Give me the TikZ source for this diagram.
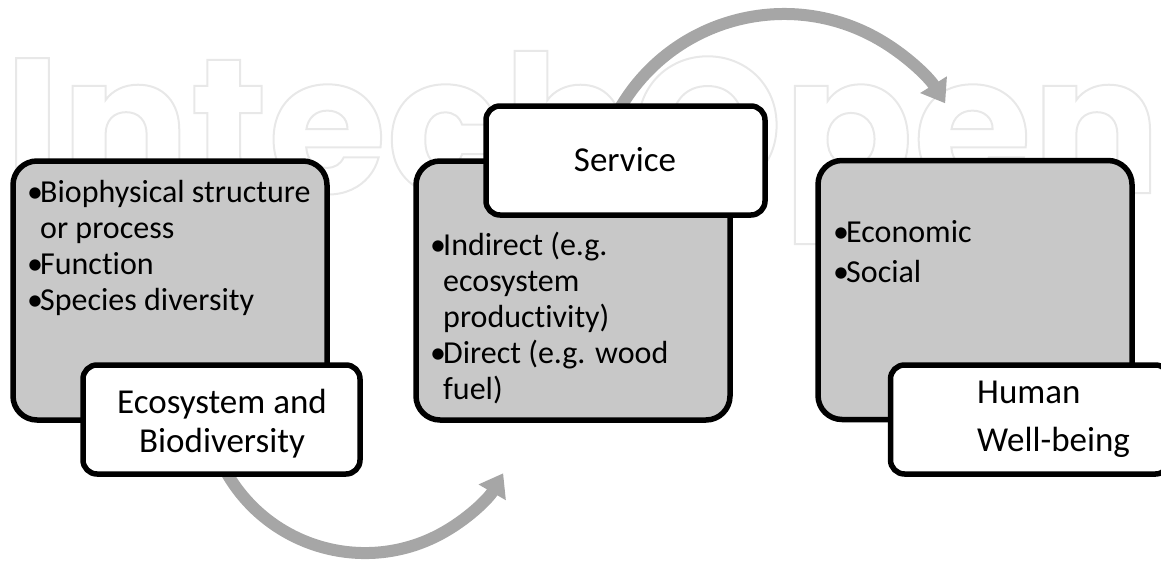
\documentclass[tikz,border=0pt]{standalone}
\usepackage{fontspec}
\setmainfont{Carlito}[Ligatures=NoCommon]
\newfontfamily\wmfont{Poppins}
\usetikzlibrary{arrows.meta}
\definecolor{boxgray}{RGB}{200,200,200}
\definecolor{arrowgray}{RGB}{166,166,166}
\definecolor{wmgray}{RGB}{232,232,232}
\begin{document}
\begin{tikzpicture}[x=1pt,y=-1pt,
  infobox/.style={draw=black, line width=5.5pt, fill=boxgray, rounded corners=24pt,
    inner sep=0pt, minimum width=314pt, minimum height=259pt},
  labelbox/.style={draw=black, line width=5.5pt, fill=white, rounded corners=14pt,
    inner sep=0pt, minimum width=279pt, minimum height=109pt},
  bl/.style={anchor=base west, inner sep=0pt, font=\fontsize{32}{38}\selectfont},
  lbl/.style={anchor=base, inner sep=0pt, font=\fontsize{35}{42}\selectfont},
  lblw/.style={anchor=base west, inner sep=0pt, font=\fontsize{35}{42}\selectfont},
  flow/.style={draw=arrowgray, line width=12pt, -{Triangle[width=30pt,length=22pt]}}]
\useasboundingbox (0,0) rectangle (1161,563);

% watermark
\node[anchor=base west, inner sep=0pt, text=wmgray,
  font=\wmfont\bfseries\fontsize{192}{192}\selectfont] (wm) at (4,193)
  {\special{pdf:literal direct 1 Tr 2 w}IntechOpen\special{pdf:literal direct 0 Tr}};

% curved arrows
\coordinate (a1s) at (224.2,468.4);
\coordinate (a2s) at (619.5,109);
\draw[flow] (a1s) arc[start angle=152, end angle=30, radius=159.5];
\draw[flow] (a2s) arc[start angle=210, end angle=328, radius=190];

% grey boxes
\node[infobox] (eco) at (170,290.5) {};
\node[infobox] (srv) at (573,290.5) {};
\node[infobox] (hum) at (975,290) {};

% label boxes
\node[labelbox, minimum width=277pt] (ecoL) at (221.5,419.5) {};
\node[labelbox] (srvL) at (625.5,160.5) {};
\node[labelbox] (humL) at (1030,419.5) {};

% box 1 text
\node[bl] (e1b) at (27,202) {•};
\node[bl] (e1) at (40,202) {Biophysical structure};
\node[bl] (e2) at (40,238) {or process};
\node[bl] (e3b) at (27,274) {•};
\node[bl] (e3) at (40,274) {Function};
\node[bl] (e4b) at (27,310) {•};
\node[bl] (e4) at (40,310) {Species diversity};

% box 2 text
\node[bl] (s1b) at (430,255) {•};
\node[bl] (s1) at (443,255) {Indirect (e.g.};
\node[bl] (s2) at (443,291) {ecosystem};
\node[bl] (s3) at (443,327) {productivity)};
\node[bl] (s4b) at (430,363) {•};
\node[bl] (s4) at (443,363) {Direct (e.g. wood};
\node[bl] (s5) at (443,399) {fuel)};

% box 3 text
\node[bl] (h1b) at (833,242) {•};
\node[bl] (h1) at (846,242) {Economic};
\node[bl] (h2b) at (833,282) {•};
\node[bl] (h2) at (846,282) {Social};

% labels
\node[lbl] (l1a) at (222,413) {Ecosystem and};
\node[lbl] (l1b) at (222,452) {Biodiversity};
\node[lbl] (l2) at (625,171) {Service};
\node[lblw] (l3a) at (977,403) {Human};
\node[lblw] (l3b) at (977,451) {Well-being};
\end{tikzpicture}
\end{document}
